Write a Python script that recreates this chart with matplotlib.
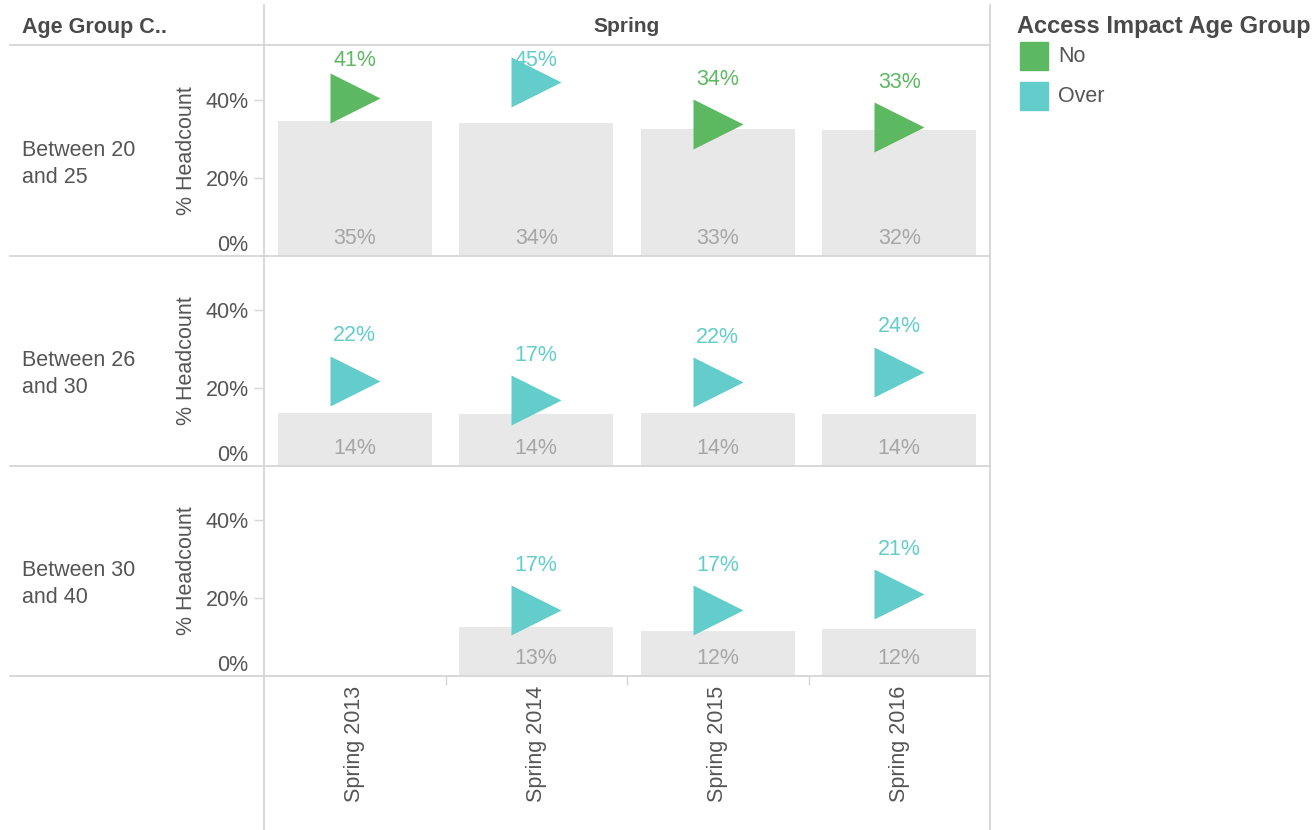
import matplotlib
matplotlib.use('Agg')
import matplotlib.pyplot as plt
from matplotlib.lines import Line2D
from matplotlib.patches import Rectangle

# --- datos ---
temporadas = ['Spring 2013', 'Spring 2014', 'Spring 2015', 'Spring 2016']
grupos = ['Between 20\nand 25', 'Between 26\nand 30', 'Between 30\nand 40']
# barras grises (% headcount)
barras = [
    [34.6, 34.2, 32.6, 32.2],
    [13.6, 13.2, 13.6, 13.2],
    [None, 12.6, 11.6, 12.1],
]
barras_txt = [
    ['35%', '34%', '33%', '32%'],
    ['14%', '14%', '14%', '14%'],
    [None, '13%', '12%', '12%'],
]
# triangulos
triangulos = [
    [40.6, 44.6, 33.8, 33.0],
    [21.8, 16.8, 21.4, 24.2],
    [None, 16.9, 16.9, 21.0],
]
triangulos_txt = [
    ['41%', '45%', '34%', '33%'],
    ['22%', '17%', '22%', '24%'],
    [None, '17%', '17%', '21%'],
]
categoria = [
    ['No', 'Over', 'No', 'No'],
    ['Over', 'Over', 'Over', 'Over'],
    [None, 'Over', 'Over', 'Over'],
]
colores = {'No': '#5db862', 'Over': '#62cdca'}

W, H = 1316, 830
plt.rcParams['font.family'] = ['Liberation Sans', 'DejaVu Sans']
fig = plt.figure(figsize=(W / 100, H / 100), dpi=100)

GRIS = '#d6d6d6'
TXT = '#555555'
FS = 15.5


def fx(x):
    return x / W


def fy(y):
    return 1 - y / H


def linea(x0, y0, x1, y1):
    fig.add_artist(Line2D([fx(x0), fx(x1)], [fy(y0), fy(y1)], color=GRIS, lw=1.3))


X0, X1 = 264, 990
filas_top = [46, 256, 466]
ALTO = 210
YMAX = 53.8
px_por_u = ALTO / YMAX

for r, top in enumerate(filas_top):
    ax = fig.add_axes([fx(X0), fy(top + ALTO), fx(X1 - X0), ALTO / H])
    ax.set_xlim(-0.5, 3.5)
    ax.set_ylim(0, YMAX)
    for s in ax.spines.values():
        s.set_visible(False)
    ax.patch.set_alpha(0)

    for i in range(len(temporadas)):
        if barras[r][i] is not None:
            ax.bar(i, barras[r][i], width=0.85, color='#e8e8e8', zorder=1)
            ax.text(i, 18 / px_por_u, barras_txt[r][i], ha='center', va='center',
                    fontsize=FS, color='#a6a6a6', zorder=2)
        if triangulos[r][i] is not None:
            c = colores[categoria[r][i]]
            v = triangulos[r][i]
            ty = min(v + 45 / px_por_u, YMAX - 14 / px_por_u)
            ax.text(i, ty, triangulos_txt[r][i], ha='center', va='center',
                    fontsize=FS, color=c, zorder=2)
            ax.plot(i, v, marker='>', ms=36, color=c, mec='none', zorder=3)

    ax.set_yticks([0, 20, 40])
    ax.set_yticklabels(['0%', '20%', '40%'], fontsize=FS, color=TXT)
    ax.tick_params(axis='y', length=7, width=1, color=GRIS, pad=4)
    ax.get_yticklabels()[0].set_va('bottom')
    ax.yaxis.get_major_ticks()[0].tick1line.set_visible(False)

    if r == len(filas_top) - 1:
        ax.set_xticks(range(len(temporadas)))
        ax.set_xticklabels(temporadas, rotation=90, fontsize=FS, color=TXT)
        ax.set_xticks([0.5, 1.5, 2.5], minor=True)
        ax.tick_params(axis='x', which='major', length=0, pad=7)
        ax.tick_params(axis='x', which='minor', length=6.5, width=1, color=GRIS)
    else:
        ax.set_xticks([])

    centro = top + ALTO / 2
    fig.text(fx(187), fy(centro), '% Headcount', rotation=90, ha='center', va='center',
             fontsize=FS, color=TXT)
    fig.text(fx(22), fy(centro + 13), grupos[r], ha='left', va='center', fontsize=FS,
             color=TXT, linespacing=1.4)

# lineas de la tabla
linea(X0, 5, X0, H)
linea(X1, 5, X1, H)
linea(10, 45, X1, 45)
for top in filas_top:
    linea(10, top + ALTO, X1, top + ALTO)

# encabezados
fig.text(fx(22), fy(27), 'Age Group C..', ha='left', va='center', fontsize=FS,
         fontweight='bold', color='#4a4a4a')
fig.text(fx((X0 + X1) / 2), fy(27), 'Spring', ha='center', va='center', fontsize=15,
         fontweight='bold', color='#4a4a4a')

# leyenda
fig.text(fx(1017), fy(27), 'Access Impact Age Group', ha='left', va='center', fontsize=17,
         fontweight='bold', color='#4a4a4a')
for nombre, yy in [('No', 56), ('Over', 96)]:
    fig.add_artist(Rectangle((fx(1020), fy(yy + 14)), 28 / W, 28 / H,
                             transform=fig.transFigure, color=colores[nombre]))
    fig.text(fx(1058), fy(yy), nombre, ha='left', va='center', fontsize=FS, color=TXT)

fig.savefig('out.png', dpi=100)
